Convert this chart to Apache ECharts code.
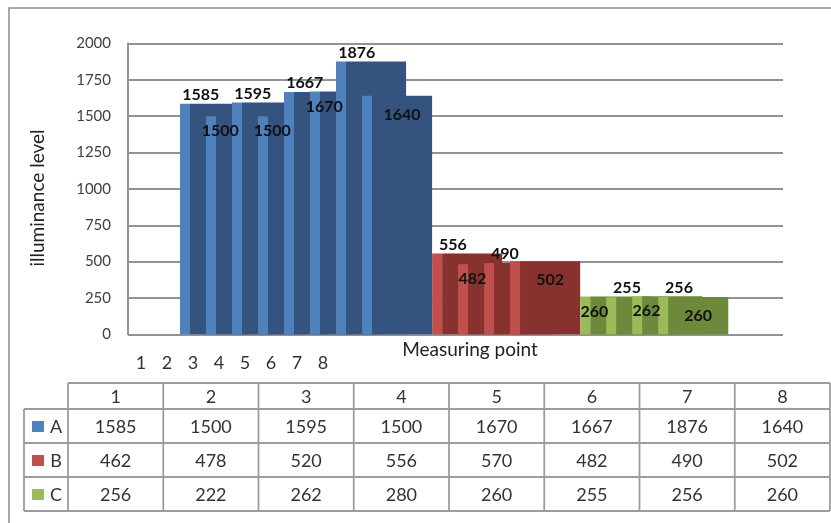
<!DOCTYPE html>
<html><head><meta charset="utf-8">
<script src="https://cdn.jsdelivr.net/npm/echarts/dist/echarts.min.js"></script>
<style>html,body{margin:0;padding:0;background:#fff}#c{width:831px;height:523px}</style>
</head><body><div id="c"></div>
<script>
// ---- data ----
const categories = ['1', '2', '3', '4', '5', '6', '7', '8'];
const seriesNames = ['A', 'B', 'C'];
const tableA = [1585, 1500, 1595, 1500, 1670, 1667, 1876, 1640];
const tableB = [462, 478, 520, 556, 570, 482, 490, 502];
const tableC = [256, 222, 262, 280, 260, 255, 256, 260];
// columns as they are drawn in the (3D) chart
const barsA = [1585, 1500, 1595, 1500, 1667, 1670, 1876, 1640];
const barsB = [556, 482, 490, 502];
const barsC = [260, 255, 262, 256];
const labelsA = [1585, 1500, 1595, 1500, 1667, 1670, 1876, 1640];
const labelsB = [556, 482, 490, 502];
const labelsC = [260, 255, 262, 256, 260];
const yMin = 0, yMax = 2000, yStep = 250;

// ---- style / layout ----
const FRONT = ['#4F81BD', '#C0504D', '#9BBB59'];
const DARK = ['#34537F', '#87322F', '#6D893B'];
const FIRST_ABOVE = [true, true, false];
const W = 0.385, D = 2.31, START = 2.0, XMAX = 25.19;
const FONT = 'Lato, "Open Sans", sans-serif';

const groups = [[barsA, labelsA], [barsB, labelsB], [barsC, labelsC]];
const barData = [], labelData = [];
let gx = START;
groups.forEach(([bars, labels], g) => {
  bars.forEach((v, i) => barData.push([gx + i, v, g]));
  labels.forEach((v, i) => {
    let mode;
    if (i === labels.length - 1) mode = 2;
    else mode = ((i % 2 === 0) === FIRST_ABOVE[g]) ? 0 : 1;
    const bi = Math.min(i, bars.length - 1);
    labelData.push([gx + bi, v, mode]);
  });
  gx += (bars.length - 1) + W + D;
});

const chart = echarts.init(document.getElementById('c'));

function darkItem(params, api) {
  const x0 = api.value(0), v = api.value(1), g = api.value(2);
  const p1 = api.coord([x0 + W, v]), p2 = api.coord([x0 + W + D, 0]);
  return {type: 'rect', shape: {x: p1[0], y: p1[1], width: p2[0] - p1[0], height: p2[1] - p1[1]},
    style: {fill: DARK[g]}};
}
function frontItem(params, api) {
  const x0 = api.value(0), v = api.value(1), g = api.value(2);
  const p1 = api.coord([x0, v]), p2 = api.coord([x0 + W, 0]);
  return {type: 'rect', shape: {x: p1[0], y: p1[1], width: p2[0] - p1[0], height: p2[1] - p1[1]},
    style: {fill: FRONT[g]}};
}
function labelItem(params, api) {
  const x0 = api.value(0), v = api.value(1), mode = api.value(2);
  let px, dy;
  if (mode === 0) { px = x0 + 0.8; dy = -9; }
  else if (mode === 1) { px = x0 + 0.55; dy = 15; }
  else { px = x0 + W + D / 2; dy = 19; }
  const p = api.coord([px, v]);
  return {type: 'text', x: p[0], y: p[1] + dy,
    style: {text: String(v), font: 'bold 16px ' + FONT, fill: '#111', align: 'center', verticalAlign: 'middle'}};
}

// ---- table graphics ----
const g = [];
const LINE = '#9c9c9c';
const tL = 24, lR = 68, tR = 830, colW = (tR - lR) / 8, hTop = 383, hH = 26, rH = 34;
const rowTop = hTop + hH;
const tBottom = rowTop + 3 * rH;
g.push({type: 'line', shape: {x1: lR, y1: hTop, x2: tR, y2: hTop}, style: {stroke: LINE, lineWidth: 1.8}});
for (let r = 0; r <= 3; r++) {
  const y = rowTop + r * rH;
  g.push({type: 'line', shape: {x1: tL, y1: y, x2: tR, y2: y}, style: {stroke: LINE, lineWidth: 1.8}});
}
g.push({type: 'line', shape: {x1: tL, y1: rowTop, x2: tL, y2: tBottom}, style: {stroke: LINE, lineWidth: 1.8}});
for (let k = 0; k <= 8; k++) {
  const x = lR + k * colW;
  g.push({type: 'line', shape: {x1: x, y1: hTop, x2: x, y2: tBottom}, style: {stroke: LINE, lineWidth: 1.8}});
}
categories.forEach((c, k) => {
  g.push({type: 'text', x: lR + (k + 0.5) * colW, y: hTop + hH / 2 + 1,
    style: {text: c, font: '18px ' + FONT, fill: '#333', align: 'center', verticalAlign: 'middle'}});
});
[tableA, tableB, tableC].forEach((row, r) => {
  const cy = rowTop + (r + 0.5) * rH + 1;
  g.push({type: 'rect', shape: {x: 32, y: cy - 6, width: 12, height: 11}, style: {fill: FRONT[r]}});
  g.push({type: 'text', x: 56, y: cy, style: {text: seriesNames[r], font: '18px ' + FONT, fill: '#333', align: 'center', verticalAlign: 'middle'}});
  row.forEach((v, k) => {
    g.push({type: 'text', x: lR + (k + 0.5) * colW, y: cy,
      style: {text: String(v), font: '18px ' + FONT, fill: '#333', align: 'center', verticalAlign: 'middle'}});
  });
});
// outer chart-area border
g.push({type: 'rect', shape: {x: 9, y: 8, width: 900, height: 600}, style: {fill: 'none', stroke: '#8c8c8c', lineWidth: 1.5}, z: -1});
// axis titles
g.push({type: 'text', x: 38, y: 198, rotation: Math.PI / 2,
  style: {text: 'illuminance level', font: '19px ' + FONT, fill: '#222', align: 'center', verticalAlign: 'middle'}});
g.push({type: 'text', x: 470, y: 350,
  style: {text: 'Measuring point', font: '19px ' + FONT, fill: '#222', align: 'center', verticalAlign: 'middle'}});

const option = {
  backgroundColor: '#fff',
  animation: false,
  grid: [
    {left: 128, right: 48, top: 43.5, bottom: 188.7},
    {left: 128, width: 26 * categories.length, top: 330, height: 4}
  ],
  xAxis: [
    {type: 'value', gridIndex: 0, min: 0, max: XMAX, show: false},
    {type: 'category', gridIndex: 1, data: categories, boundaryGap: true,
      axisLine: {show: false}, axisTick: {show: false}, splitLine: {show: false},
      axisLabel: {margin: 20, fontSize: 18, fontFamily: FONT, color: '#333'}}
  ],
  yAxis: [
    {type: 'value', gridIndex: 0, min: yMin, max: yMax, interval: yStep,
      axisLine: {show: true, lineStyle: {color: '#929292', width: 2}},
      axisTick: {show: false},
      splitLine: {show: true, lineStyle: {color: '#929292', width: 2}},
      axisLabel: {margin: 17, fontSize: 15, fontFamily: FONT, color: '#404040', formatter: v => String(v)}},
    {type: 'value', gridIndex: 1, show: false}
  ],
  graphic: {elements: g},
  series: [
    {type: 'custom', xAxisIndex: 0, yAxisIndex: 0, renderItem: darkItem, data: barData, z: 2, clip: false},
    {type: 'custom', xAxisIndex: 0, yAxisIndex: 0, renderItem: frontItem, data: barData, z: 3, clip: false},
    {type: 'custom', xAxisIndex: 0, yAxisIndex: 0, renderItem: labelItem, data: labelData, z: 4, clip: false}
  ]
};
chart.setOption(option);
</script>
</body></html>
